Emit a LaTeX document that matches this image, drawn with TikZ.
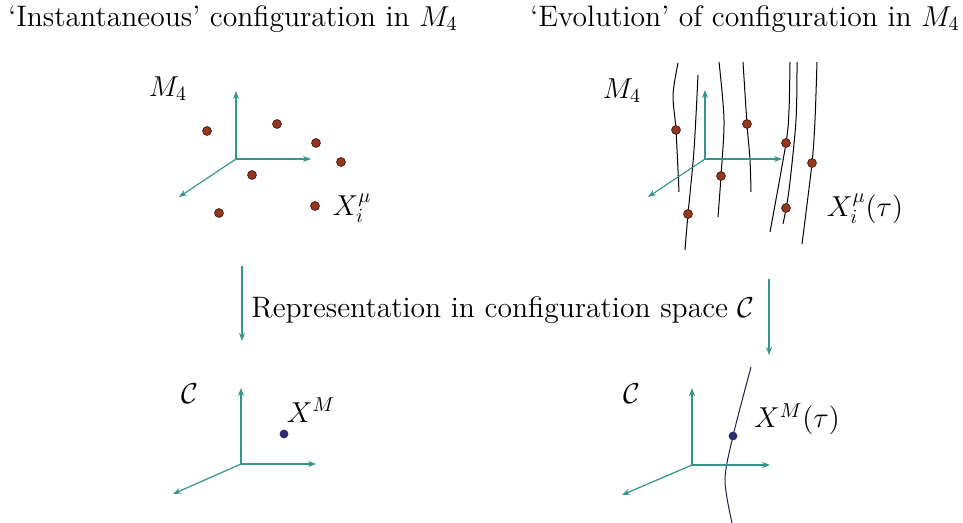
\documentclass[tikz,border=0pt]{standalone}
\usetikzlibrary{arrows.meta}
\definecolor{axisteal}{RGB}{52,150,138}
\definecolor{eventbrown}{RGB}{150,55,30}
\definecolor{eventrim}{RGB}{70,30,20}
\definecolor{pointnavy}{RGB}{45,45,110}
\tikzset{
	axis/.style={->, axisteal, line width=0.6pt},
	event/.style={fill=eventbrown, draw=eventrim, line width=0.4pt},
	worldline/.style={line width=0.5pt},
}

\begin{document}
\begin{tikzpicture}[>={Stealth[length=4pt,width=3pt]}, x=0.5pt, y=-0.5pt, font=\fontsize{14.8}{18}\selectfont]
		\useasboundingbox (0,0) rectangle (963,523);
		% titles
		\node (titleL) at (233,19) {`Instantaneous' configuration in $M_4$};
		\node (titleR) at (745,19) {`Evolution' of configuration in $M_4$};
		% top left: events in M4
		\coordinate (OL)  at (236,159);
		\draw[axis] (OL) -- (236,91);
		\draw[axis] (OL) -- (311,159);
		\draw[axis] (OL) -- (179,197);
		\node (ML) at (168,89) {$M_4$};
		\foreach \x/\y in {207/131, 277/124, 316/143, 341/162, 252/175, 219/213, 315/206}
			\fill[event] (\x,\y) circle (2.2pt);
		\node (XiL) at (352,208) {$X_i^\mu$};
		% top right: world lines in M4
		\coordinate (OR)  at (705,159);
		\draw[worldline] plot[smooth] coordinates {(678,63) (673,95) (676,130) (679,192)};
		\draw[worldline] plot[smooth] coordinates {(698,75) (694,150) (688,214) (685,250)};
		\draw[worldline] plot[smooth] coordinates {(719,62) (724,120) (721,176) (718,217)};
		\draw[worldline] plot[smooth] coordinates {(743,62) (747,124) (750,160) (751,192)};
		\draw[worldline] plot[smooth] coordinates {(790,62) (789,110) (786,143) (770,232)};
		\draw[worldline] plot[smooth] coordinates {(797,62) (796,120) (789,190) (783,224)};
		\draw[worldline] plot[smooth] coordinates {(817,62) (815,120) (812,163) (802,244)};
		\draw[axis] (OR) -- (705,90);
		\draw[axis] (OR) -- (782,159);
		\draw[axis] (OR) -- (648,197);
		\node (MR) at (622,91) {$M_4$};
		\foreach \x/\y in {676/130, 688/214, 721/176, 747/124, 786/143, 786/208, 812/163}
			\fill[event] (\x,\y) circle (2.2pt);
		\node (XiR) at (865,209) {$X_i^\mu(\tau)$};
		% map to configuration space
		\coordinate (mapLs) at (242,266);
		\coordinate (mapLe) at (242,341);
		\coordinate (mapRs) at (769,279);
		\coordinate (mapRe) at (769,355);
		\draw[axis] (mapLs) -- (mapLe);
		\draw[axis] (mapRs) -- (mapRe);
		\node (rep) at (503,310) {Representation in configuration space $\mathcal{C}$};
		% bottom left: point in C
		\coordinate (CL) at (241,464);
		\draw[axis] (CL) -- (241,388);
		\draw[axis] (CL) -- (316,464);
		\draw[axis] (CL) -- (173,494);
		\node (CLlab) at (190,394) {$\mathcal{C}$};
		\fill[pointnavy] (284,434) circle (2.2pt);
		\node (XL) at (311,410) {$X^M$};
		% bottom right: curve in C
		\coordinate (CR) at (692,465);
		\draw[worldline, pointnavy!70!black] plot[smooth] coordinates {(751,367) (733,436) (725,480) (732,523)};
		\draw[axis] (CR) -- (692,388);
		\draw[axis] (CR) -- (770,465);
		\draw[axis] (CR) -- (622,495);
		\node (CRlab) at (632,394) {$\mathcal{C}$};
		\fill[pointnavy] (733,436) circle (2.2pt);
		\node (XR) at (797,419) {$X^M(\tau)$};
	\end{tikzpicture}
\end{document}
